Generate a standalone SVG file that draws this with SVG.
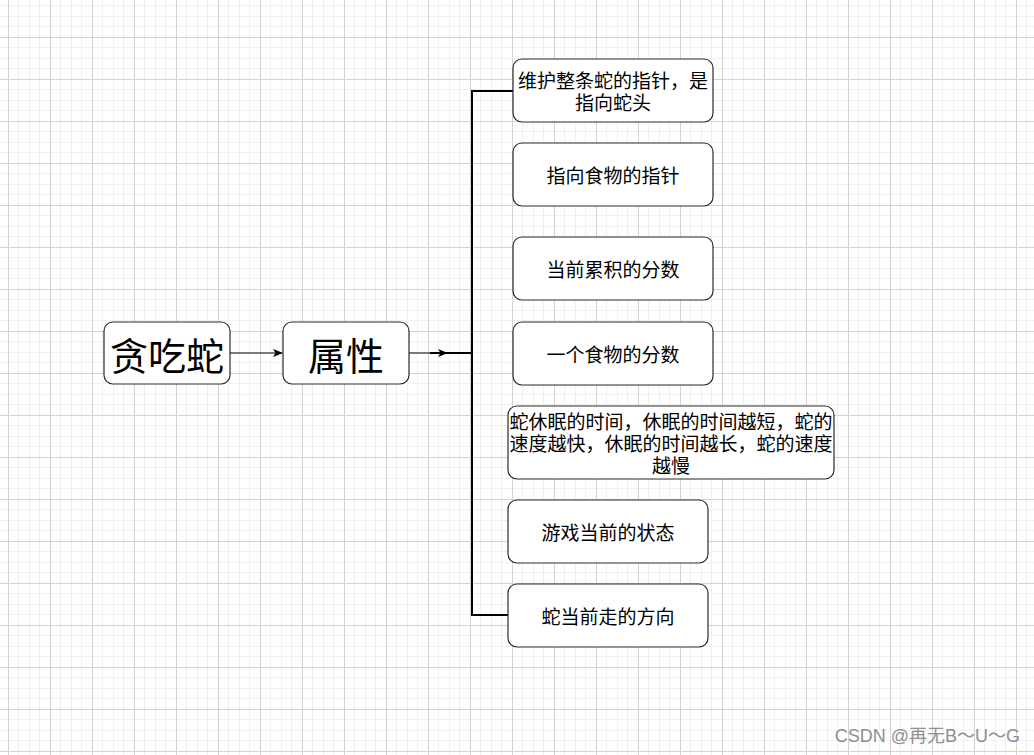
<svg xmlns="http://www.w3.org/2000/svg" width="1034" height="755" viewBox="0 0 1034 755">
<style>
.node rect{fill:#ffffff;stroke:#2b2b2b;stroke-width:1.2}
.t{font-family:"Noto Sans CJK SC","Liberation Sans",sans-serif;fill:#000;text-anchor:middle;dominant-baseline:central}
.big{font-size:38px}
.sm{font-family:"Liberation Sans","Noto Sans CJK SC",sans-serif;font-size:19px;fill:#000;text-anchor:middle}
.edge{fill:none;stroke:#000;stroke-width:1.2}
.bracket{fill:none;stroke:#000;stroke-width:2}
.wm{font-family:"Liberation Sans","Noto Sans CJK SC",sans-serif;font-size:18px;fill:#8f8f8f;text-anchor:end}
</style>
<defs>
<pattern id="grid" x="8" y="37" width="42" height="42" patternUnits="userSpaceOnUse">
<rect x="0" y="0" width="42" height="42" fill="#ffffff"/>
<rect x="10" y="0" width="1" height="42" fill="#f0f0f0"/>
<rect x="21" y="0" width="1" height="42" fill="#f0f0f0"/>
<rect x="31" y="0" width="1" height="42" fill="#f0f0f0"/>
<rect x="0" y="10" width="42" height="1" fill="#f0f0f0"/>
<rect x="0" y="21" width="42" height="1" fill="#f0f0f0"/>
<rect x="0" y="31" width="42" height="1" fill="#f0f0f0"/>
<rect x="0" y="0" width="1" height="42" fill="#d3d3d3"/>
<rect x="0" y="0" width="42" height="1" fill="#d3d3d3"/>
</pattern>
<marker id="arr" markerWidth="10" markerHeight="8" viewBox="0 0 10 8" refX="9" refY="4" orient="auto" markerUnits="userSpaceOnUse">
<path d="M0,0 L10,4 L0,8 L2.5,4 Z" fill="#000"/>
</marker>
</defs>
<rect x="0" y="0" width="1034" height="755" fill="url(#grid)"/>

<g id="connectors">
<line class="edge" x1="230" y1="353" x2="282" y2="353" marker-end="url(#arr)"/>
<line class="bracket" x1="430" y1="353" x2="472" y2="353"/>
<line class="edge" x1="409" y1="353" x2="447" y2="353" marker-end="url(#arr)"/>
<path class="bracket" d="M513,91 H472 V615 H508"/>
</g>

<g id="node-snake" class="node">
<rect x="104" y="322" width="126" height="62" rx="9"/>
<text class="t big" x="167" y="353">贪吃蛇</text>
</g>
<g id="node-attr" class="node">
<rect x="283" y="322" width="126" height="62" rx="9"/>
<text class="t big" x="346" y="353">属性</text>
</g>
<g id="node-head" class="node">
<rect x="513" y="59" width="200" height="63" rx="9"/>
<text class="sm" x="613" y="87.8">维护整条蛇的指针，是</text>
<text class="sm" x="613" y="109.8">指向蛇头</text>
</g>
<g id="node-food" class="node">
<rect x="513" y="143" width="200" height="63" rx="9"/>
<text class="sm" x="613" y="182.8">指向食物的指针</text>
</g>
<g id="node-score" class="node">
<rect x="513" y="237" width="200" height="63" rx="9"/>
<text class="sm" x="613" y="276.8">当前累积的分数</text>
</g>
<g id="node-foodscore" class="node">
<rect x="513" y="322" width="200" height="63" rx="9"/>
<text class="sm" x="613" y="361.8">一个食物的分数</text>
</g>
<g id="node-sleep" class="node">
<rect x="508" y="406" width="326" height="73" rx="9"/>
<text class="sm" x="671" y="428.8">蛇休眠的时间，休眠的时间越短，蛇的</text>
<text class="sm" x="671" y="450.8">速度越快，休眠的时间越长，蛇的速度</text>
<text class="sm" x="671" y="472.8">越慢</text>
</g>
<g id="node-state" class="node">
<rect x="508" y="500" width="200" height="63" rx="9"/>
<text class="sm" x="608" y="539.8">游戏当前的状态</text>
</g>
<g id="node-dir" class="node">
<rect x="508" y="584" width="200" height="63" rx="9"/>
<text class="sm" x="608" y="623.8">蛇当前走的方向</text>
</g>

<text class="wm" x="1020" y="742">CSDN @再无B～U～G</text>
</svg>
